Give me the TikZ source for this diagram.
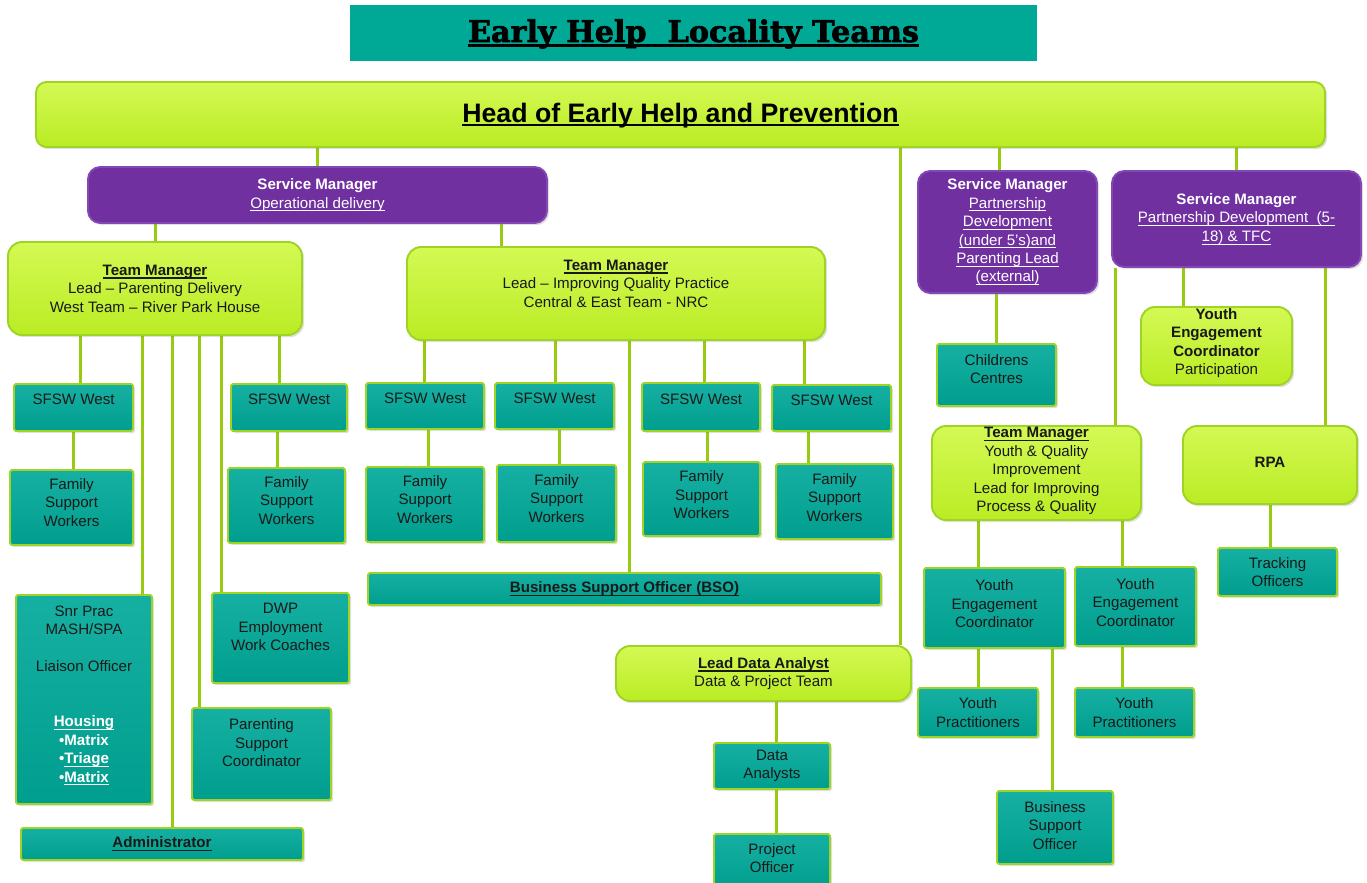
\documentclass[tikz,border=0pt]{standalone}
\usepackage{fontspec}
\setmainfont{Liberation Sans}
\newfontfamily\slabfont[BoldFeatures={FakeBold=2}]{DejaVu Serif}
\usepackage{graphicx}
\usetikzlibrary{fit,calc,shadows,backgrounds}

\definecolor{titleteal}{RGB}{0,168,150}
\definecolor{tealfill}{RGB}{0,158,142}
\definecolor{tealtop}{RGB}{22,176,162}
\definecolor{limefill}{RGB}{186,236,36}
\definecolor{limetop}{RGB}{212,249,84}
\definecolor{limeline}{RGB}{158,212,36}
\definecolor{smpurple}{RGB}{112,48,160}
\definecolor{purpleline}{RGB}{132,72,180}
\definecolor{linkgreen}{RGB}{152,202,18}

\newcommand\bodyfont{\fontsize{8.6}{10.5}\selectfont}
% underline: text, then a rule a little below the baseline
\newcommand\uln[2][0.6pt]{\setbox0\hbox{#2}\dp0=0pt\vtop{\copy0\kern1.3pt\hrule height#1}}

\tikzset{
  box/.style={inner sep=0pt, line width=1.1pt,
    drop shadow={opacity=0.25, shadow xshift=1.2pt, shadow yshift=-1.2pt}},
  titlebox/.style={inner sep=0pt, fill=titleteal},
  tealbox/.style={box, draw=limeline, top color=tealtop, bottom color=tealfill, rounded corners=1pt},
  limebox/.style={box, draw=limeline, top color=limetop, bottom color=limefill, rounded corners=8pt},
  purplebox/.style={box, draw=purpleline, fill=smpurple, rounded corners=7pt},
  txt/.style={align=center, inner sep=0pt, font=\bodyfont, text=black!90},
  wtxt/.style={txt, text=white},
  link/.style={draw=linkgreen, line width=0.06cm},
}

\begin{document}
\begin{tikzpicture}[x=0.02cm, y=-0.02cm]
\useasboundingbox (0,0) rectangle (1367,883);

% title and head
\node[titlebox, fit={(350,5) (1037,61)}] (title) {};
\node[txt, font={\slabfont\bfseries\fontsize{17}{20}\selectfont}, text=black] (title-t) at (title)
  {\resizebox{9.02cm}{\height}{\uln[1.4pt]{Early Help\ \ Locality Teams}}};

\node[limebox, rounded corners=6pt, fit={(36,82) (1325,147)}] (head) {};
\node[txt, font={\bfseries\fontsize{15.2}{18}\selectfont}, text=black] (head-t) at (head)
  {\uln[1pt]{Head of Early Help and Prevention}};

% service managers
\node[purplebox, fit={(88,167) (547,223)}] (smop) {};
\node[wtxt] (smop-t) at (smop) {\textbf{Service Manager}\\\uln{Operational delivery}};

\node[purplebox, fit={(918,171) (1097,293)}] (smu5) {};
\node[wtxt] (smu5-t) at (smu5) {\textbf{Service Manager}\\\uln{Partnership}\\\uln{Development}\\
  \uln{(under 5’s)and}\\\uln{Parenting Lead}\\\uln{(external)}};

\node[purplebox, fit={(1112,171) (1361,267)}] (sm518) {};
\node[wtxt] (sm518-t) at (sm518) {\textbf{Service Manager}\\\uln{Partnership Development\ \ (5-}\\\uln{18) \& TFC}};

% team managers
\node[limebox, fit={(8,242) (302,335)}] (tmw) {};
\node[txt] (tmw-t) at (tmw) {\textbf{\uln{Team Manager}}\\Lead – Parenting Delivery\\West Team – River Park House};

\node[limebox, fit={(407,247) (825,340)}] (tmc) {};
\node[txt] (tmc-t) at ($(tmc)+(0,-10)$) {\textbf{\uln{Team Manager}}\\Lead – Improving Quality Practice\\Central \& East Team - NRC};

% west team
\node[tealbox, fit={(14,384) (133,431)}] (sfswA) {};
\node[txt] (sfswA-t) at ($(sfswA)+(0,-8)$) {SFSW West};
\node[tealbox, fit={(10,470) (133,545)}] (fswA) {};
\node[txt] (fswA-t) at ($(fswA)+(0,-5)$) {Family\\Support\\Workers};

\node[tealbox, fit={(231,384) (347,431)}] (sfswB) {};
\node[txt] (sfswB-t) at ($(sfswB)+(0,-8)$) {SFSW West};
\node[tealbox, fit={(228,468) (345,543)}] (fswB) {};
\node[txt] (fswB-t) at ($(fswB)+(0,-5)$) {Family\\Support\\Workers};

\node[tealbox, fit={(16,595) (152,804)}] (snr) {};
\node[txt] (snr-t) at ($(snr)+(0,-4)$) {Snr Prac\\MASH/SPA\\[10.5pt]Liaison Officer\\[21pt]
  \textcolor{white}{\textbf{\uln{Housing}}}\\\textcolor{white}{\textbf{•Matrix}}\\
  \textcolor{white}{\textbf{•\uln{Triage}}}\\\textcolor{white}{\textbf{•\uln{Matrix}}}};

\node[tealbox, fit={(212,593) (349,683)}] (dwp) {};
\node[txt] (dwp-t) at ($(dwp)+(0,-11)$) {DWP\\Employment\\Work Coaches};

\node[tealbox, fit={(192,708) (331,800)}] (psc) {};
\node[txt] (psc-t) at ($(psc)+(0,-11)$) {Parenting\\Support\\Coordinator};

\node[tealbox, fit={(21,828) (303,860)}] (admin) {};
\node[txt] (admin-t) at (admin) {\textbf{\uln{Administrator}}};

% central and east team
\node[tealbox, fit={(366,383) (484,429)}] (sfswC) {};
\node[txt] (sfswC-t) at ($(sfswC)+(0,-8)$) {SFSW West};
\node[tealbox, fit={(495,383) (614,429)}] (sfswD) {};
\node[txt] (sfswD-t) at ($(sfswD)+(0,-8)$) {SFSW West};
\node[tealbox, fit={(642,383) (760,431)}] (sfswE) {};
\node[txt] (sfswE-t) at ($(sfswE)+(0,-8)$) {SFSW West};
\node[tealbox, fit={(772,385) (891,431)}] (sfswF) {};
\node[txt] (sfswF-t) at ($(sfswF)+(0,-8)$) {SFSW West};

\node[tealbox, fit={(366,467) (484,542)}] (fswC) {};
\node[txt] (fswC-t) at ($(fswC)+(0,-5)$) {Family\\Support\\Workers};
\node[tealbox, fit={(497,465) (616,542)}] (fswD) {};
\node[txt] (fswD-t) at ($(fswD)+(0,-5)$) {Family\\Support\\Workers};
\node[tealbox, fit={(643,462) (760,536)}] (fswE) {};
\node[txt] (fswE-t) at ($(fswE)+(0,-4)$) {Family\\Support\\Workers};
\node[tealbox, fit={(776,464) (893,539)}] (fswF) {};
\node[txt] (fswF-t) at ($(fswF)+(0,-4)$) {Family\\Support\\Workers};

\node[tealbox, fit={(368,573) (881,605)}] (bso) {};
\node[txt] (bso-t) at (bso) {\textbf{\uln{Business Support Officer (BSO)}}};

% data team
\node[limebox, fit={(616,646) (911,701)}] (lda) {};
\node[txt] (lda-t) at (lda) {\textbf{\uln{Lead Data Analyst}}\\Data \& Project Team};
\node[tealbox, fit={(714,743) (830,789)}] (da) {};
\node[txt] (da-t) at (da) {Data\\Analysts};
\node[tealbox, fit={(714,834) (830,890)}] (po) {};
\node[txt] (po-t) at (po |- 0,858) {Project\\Officer};

% partnership
\node[tealbox, fit={(937,344) (1056,406)}] (cc) {};
\node[txt] (cc-t) at ($(cc)+(0,-6)$) {Childrens\\Centres};

\node[limebox, fit={(1141,307) (1292,385)}] (yecp) {};
\node[txt] (yecp-t) at ($(yecp)+(0,-3)$) {\textbf{Youth}\\\textbf{Engagement}\\\textbf{Coordinator}\\Participation};

\node[limebox, fit={(932,426) (1141,520)}] (tmy) {};
\node[txt] (tmy-t) at ($(tmy)+(0,-2)$) {\textbf{\uln{Team Manager}}\\Youth \& Quality\\Improvement\\Lead for Improving\\Process \& Quality};

\node[limebox, fit={(1183,426) (1357,504)}] (rpa) {};
\node[txt] (rpa-t) at ($(rpa)+(0,-3)$) {\textbf{RPA}};

\node[tealbox, fit={(1218,548) (1337,596)}] (track) {};
\node[txt] (track-t) at (track) {Tracking\\Officers};

\node[tealbox, fit={(924,568) (1065,648)}] (yecA) {};
\node[txt] (yecA-t) at ($(yecA)+(0,-4)$) {Youth\\Engagement\\Coordinator};
\node[tealbox, fit={(1075,567) (1196,646)}] (yecB) {};
\node[txt] (yecB-t) at ($(yecB)+(0,-4)$) {Youth\\Engagement\\Coordinator};

\node[tealbox, fit={(918,688) (1038,737)}] (ypA) {};
\node[txt] (ypA-t) at (ypA) {Youth\\Practitioners};
\node[tealbox, fit={(1075,688) (1194,737)}] (ypB) {};
\node[txt] (ypB-t) at (ypB) {Youth\\Practitioners};

\node[tealbox, fit={(997,791) (1113,864)}] (bso2) {};
\node[txt] (bso2-t) at ($(bso2)+(0,-2)$) {Business\\Support\\Officer};

% connectors
\begin{scope}[on background layer]
\draw[link] (smop.north) -- (smop.north |- head.south);
\draw[link] (tmw.north) -- (tmw.north |- smop.south);
\draw[link] (smop.south -| 501,0) -- (tmc.north -| 501,0);
\draw[link] (head.south -| 999,0) -- (smu5.north -| 999,0);
\draw[link] (sm518.north) -- (sm518.north |- head.south);
\draw[link] (head.south -| 900,0) -- (lda.north -| 900,0);

\draw[link] (tmw.south -| 80,0) -- (sfswA.north -| 80,0);
\draw[link] (sfswA.south -| 73,0) -- (fswA.north -| 73,0);
\draw[link] (tmw.south -| 142,0) -- (snr.north -| 142,0);
\draw[link] (tmw.south -| 172,0) -- (admin.north -| 172,0);
\draw[link] (tmw.south -| 199,0) -- (psc.north -| 199,0);
\draw[link] (tmw.south -| 221,0) -- (dwp.north -| 221,0);
\draw[link] (tmw.south -| 279,0) -- (sfswB.north -| 279,0);
\draw[link] (sfswB.south -| 277,0) -- (fswB.north -| 277,0);

\draw[link] (tmc.south -| 424,0) -- (sfswC.north -| 424,0);
\draw[link] (sfswC.south -| 428,0) -- (fswC.north -| 428,0);
\draw[link] (tmc.south -| 555,0) -- (sfswD.north -| 555,0);
\draw[link] (sfswD.south -| 559,0) -- (fswD.north -| 559,0);
\draw[link] (tmc.south -| 629,0) -- (bso.north -| 629,0);
\draw[link] (tmc.south -| 704,0) -- (sfswE.north -| 704,0);
\draw[link] (sfswE.south -| 707,0) -- (fswE.north -| 707,0);
\draw[link] (tmc.south -| 804,0) -- (sfswF.north -| 804,0);
\draw[link] (sfswF.south -| 808,0) -- (fswF.north -| 808,0);

\draw[link] (lda.south -| 776,0) -- (da.north -| 776,0);
\draw[link] (da.south -| 776,0) -- (po.north -| 776,0);

\draw[link] (cc.north) -- (cc.north |- smu5.south);
\draw[link] (sm518.south -| 1115,0) -- (tmy.north -| 1115,0);
\draw[link] (sm518.south -| 1183,0) -- (yecp.north -| 1183,0);
\draw[link] (sm518.south -| 1325,0) -- (rpa.north -| 1325,0);
\draw[link] (rpa.south) -- (rpa.south |- track.north);
\draw[link] (tmy.south -| 978,0) -- (yecA.north -| 978,0);
\draw[link] (tmy.south -| 1122,0) -- (yecB.north -| 1122,0);
\draw[link] (yecA.south -| 978,0) -- (ypA.north -| 978,0);
\draw[link] (yecB.south -| 1122,0) -- (ypB.north -| 1122,0);
\draw[link] (yecA.south -| 1052,0) -- (bso2.north -| 1052,0);
\end{scope}
\end{tikzpicture}
\end{document}
